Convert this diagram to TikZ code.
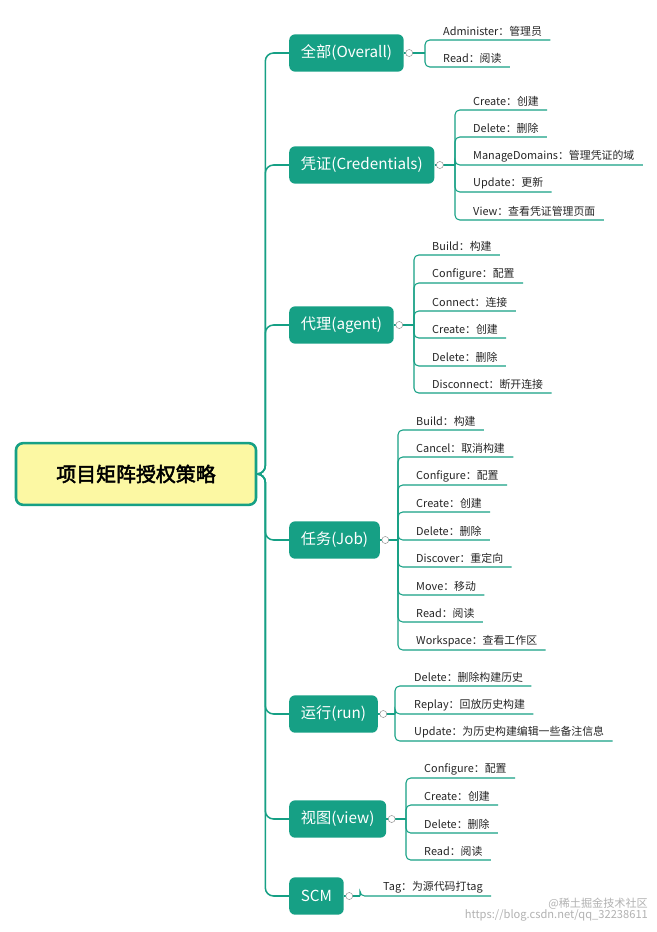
\documentclass[tikz,border=0pt]{standalone}
\usepackage{fontspec}
\setmainfont[AutoFakeBold=2.5]{Noto Sans CJK SC}
\definecolor{mapgreen}{HTML}{16A085}
\definecolor{rootyellow}{HTML}{FCF8A3}
\tikzset{
	root/.style={draw=mapgreen, line width=2.2pt, fill=rootyellow, rounded corners=6pt,
		minimum width=7.2cm, minimum height=1.85cm, font=\fontsize{17}{20}\selectfont\bfseries},
	branch/.style={fill=mapgreen, text=white, rounded corners=5pt, anchor=west,
		minimum height=1.12cm, inner xsep=0.35cm, font=\fontsize{13}{15}\selectfont},
	leaf/.style={anchor=south west, inner xsep=0pt, inner ysep=2.5pt, text=black!85,
		font=\fontsize{9.3}{11}\selectfont},
	trunk/.style={draw=mapgreen, line width=1.3pt, rounded corners=7pt},
	leafline/.style={draw=mapgreen, line width=0.9pt, rounded corners=4pt},
	fold/.style={circle, draw=black!45, fill=white, inner sep=0pt, minimum size=6pt, line width=0.4pt},
	wmarktext/.style={text=black!30, font=\fontsize{9.5}{11}\selectfont, anchor=east}
}
% #1 branch, #2 hub x, #3 hub y, #4 text x, #5 list of underline y / text
\newcommand\leafgroup[5]{%
	\coordinate (#1hub) at (#2,#3);
	\draw[leafline] (#1.east) -- (#1hub);
	\foreach \uy/\txt [count=\k] in {#5}{%
		\node[leaf] (#1leaf\k) at (#4,\uy) {\txt};
		\draw[leafline] (#1hub) |- (#4-8,\uy) -- ([xshift=7pt]#1leaf\k.south east);
	}
	\node[fold] (#1fold) at ([xshift=4.5pt]#1.east) {};
}
\begin{document}
\begin{tikzpicture}[x=0.03cm, y=-0.03cm]
\useasboundingbox[fill=white] (0,0) rectangle (657,932);
%%
%% root and branches
%%
\node[root] (root) at (136,474) {项目矩阵授权策略};
\node[branch] (overall) at (289,53) {全部(Overall)};
\node[branch] (cred) at (289,165) {凭证(Credentials)};
\node[branch] (agent) at (289,325) {代理(agent)};
\node[branch] (job) at (289,540) {任务(Job)};
\node[branch] (run) at (289,714) {运行(run)};
\node[branch] (view) at (289,819) {视图(view)};
\node[branch] (scm) at (289,896) {SCM};
\foreach \b in {overall,cred,agent,job,run,view,scm}
	\draw[trunk] (root.east) -- ++(8,0) |- (\b.west);
%%
%% leaves
%%
\leafgroup{overall}{425}{53}{443}{40/{Administer：管理员}, 67/{Read：阅读}}
\leafgroup{cred}{455}{165}{473}{110/{Create：创建}, 137/{Delete：删除},
	165/{ManageDomains：管理凭证的域}, 192/{Update：更新}, 220/{View：查看凭证管理页面}}
\leafgroup{agent}{414}{325}{432}{255/{Build：构建}, 283/{Configure：配置}, 311/{Connect：连接},
	338/{Create：创建}, 366/{Delete：删除}, 393/{Disconnect：断开连接}}
\leafgroup{job}{398}{540}{416}{430/{Build：构建}, 457/{Cancel：取消构建}, 485/{Configure：配置},
	512/{Create：创建}, 540/{Delete：删除}, 567/{Discover：重定向}, 595/{Move：移动},
	622/{Read：阅读}, 650/{Workspace：查看工作区}}
\leafgroup{run}{395}{714}{414}{686/{Delete：删除构建历史}, 714/{Replay：回放历史构建},
	741/{Update：为历史构建编辑一些备注信息}}
\leafgroup{view}{406}{819}{424}{778/{Configure：配置}, 805/{Create：创建}, 833/{Delete：删除}, 860/{Read：阅读}}
\leafgroup{scm}{360}{896}{383}{896/{Tag：为源代码打tag}}
%%
%% watermark
%%
\node[wmarktext] (wmark) at (652,904) {@稀土掘金技术社区};
\node[wmarktext] (wurl) at (652,915) {https://blog.csdn.net/qq\_32238611};
\end{tikzpicture}
\end{document}
